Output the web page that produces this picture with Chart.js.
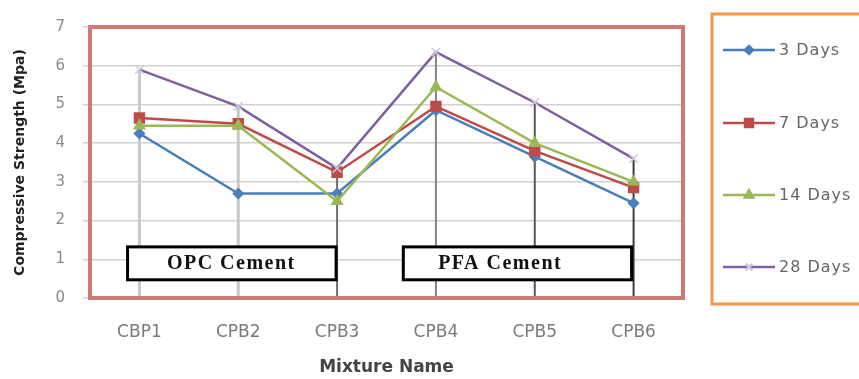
<!DOCTYPE html>
<html>
<head>
<meta charset="utf-8">
<script src="https://cdn.jsdelivr.net/npm/chart.js@4.4.1/dist/chart.umd.min.js"></script>
<style>
  html, body { margin: 0; padding: 0; background: #fff; }
  canvas { display: block; }
</style>
</head>
<body>
<canvas id="chart" width="859" height="379"></canvas>
<script>
// values
const mixtures = ['CBP1', 'CPB2', 'CPB3', 'CPB4', 'CPB5', 'CPB6'];
const days3 = [4.25, 2.7, 2.7, 4.85, 3.65, 2.45];
const days7 = [4.65, 4.5, 3.25, 4.95, 3.8, 2.85];
const days14 = [4.45, 4.45, 2.5, 5.45, 4.0, 3.0];
const days28 = [5.9, 4.95, 3.35, 6.35, 5.05, 3.6];
const seriesNames = ['3 Days', '7 Days', '14 Days', '28 Days'];
const yTicks = [0, 1, 2, 3, 4, 5, 6, 7];
const cementGroups = ['OPC Cement', 'PFA Cement'];

// label boxes, in category / value units
const groupBoxes = [
  { x0: -0.12, x1: 1.99, y0: 0.47, y1: 1.32, tx: 0.93 },
  { x0: 2.67, x1: 4.98, y0: 0.47, y1: 1.32, tx: 3.65 }
];
const dropColors = ['#c9c9c9', '#c9c9c9', '#6e6e6e', '#858585', '#555555', '#3c3c3c'];

const FONT = "'DejaVu Sans', 'Liberation Sans', sans-serif";

const dropLines = {
  id: 'dropLines',
  beforeDatasetsDraw(chart) {
    const { ctx, scales: { x, y } } = chart;
    ctx.save();
    mixtures.forEach((m, i) => {
      const top = Math.max(days3[i], days7[i], days14[i], days28[i]);
      const px = x.getPixelForValue(i);
      ctx.strokeStyle = dropColors[i];
      ctx.lineWidth = i < 2 ? 3 : 2;
      ctx.beginPath();
      ctx.moveTo(px, y.getPixelForValue(top));
      ctx.lineTo(px, y.getPixelForValue(0));
      ctx.stroke();
    });
    ctx.restore();
  }
};

const extras = {
  id: 'extras',
  afterDraw(chart) {
    const { ctx, chartArea: a, scales: { x, y } } = chart;
    const spacing = 'letterSpacing' in ctx;
    ctx.save();

    // cement label boxes
    groupBoxes.forEach((b, i) => {
      const l = x.getPixelForValue(b.x0), r = x.getPixelForValue(b.x1);
      const t = y.getPixelForValue(b.y1), btm = y.getPixelForValue(b.y0);
      ctx.fillStyle = '#fff';
      ctx.fillRect(l, t, r - l, btm - t);
      ctx.strokeStyle = '#000';
      ctx.lineWidth = 3;
      ctx.strokeRect(l, t, r - l, btm - t);
      ctx.fillStyle = '#111';
      ctx.font = "bold 20px 'Liberation Serif', serif";
      if (spacing) ctx.letterSpacing = '1.5px';
      ctx.textAlign = 'center';
      ctx.textBaseline = 'middle';
      ctx.fillText(cementGroups[i], x.getPixelForValue(b.tx), (t + btm) / 2);
      if (spacing) ctx.letterSpacing = '0px';
    });

    // plot area border
    ctx.strokeStyle = '#d07a78';
    ctx.lineWidth = 4;
    ctx.strokeRect(a.left, a.top, a.right - a.left, a.bottom - a.top);

    // legend
    ctx.strokeStyle = '#f79646';
    ctx.lineWidth = 3;
    ctx.strokeRect(712, 14, 200, 290);
    const rows = [50, 123, 195, 267];
    chart.data.datasets.forEach((ds, i) => {
      const yy = rows[i];
      ctx.strokeStyle = ds.borderColor;
      ctx.lineWidth = 2.5;
      ctx.beginPath();
      ctx.moveTo(723, yy);
      ctx.lineTo(775, yy);
      ctx.stroke();
      ctx.fillStyle = ds.pointBackgroundColor;
      ctx.strokeStyle = ds.pointBorderColor;
      Chart.helpers.drawPoint(ctx, {
        pointStyle: ds.pointStyle, rotation: 0,
        radius: ds.pointRadius * 0.8, borderWidth: ds.pointBorderWidth
      }, 749, yy);
      ctx.fillStyle = '#666';
      ctx.font = '16px ' + FONT;
      if (spacing) ctx.letterSpacing = '1px';
      ctx.textAlign = 'left';
      ctx.textBaseline = 'middle';
      ctx.fillText(ds.label, 779, yy + 1);
      if (spacing) ctx.letterSpacing = '0px';
    });
    ctx.restore();
  }
};

function line(label, data, color, style, radius, order, pointColor) {
  return {
    label, data, order,
    borderColor: color,
    backgroundColor: color,
    borderWidth: 2.5,
    tension: 0,
    fill: false,
    pointStyle: style,
    pointRadius: radius,
    pointBackgroundColor: pointColor || color,
    pointBorderColor: pointColor || color,
    pointBorderWidth: 1.5
  };
}

new Chart(document.getElementById('chart'), {
  type: 'line',
  data: {
    labels: mixtures,
    datasets: [
      line(seriesNames[0], days3, '#4a7ebb', 'rectRot', 5, 3),
      line(seriesNames[1], days7, '#be4b48', 'rect', 7, 2),
      line(seriesNames[2], days14, '#98b954', 'triangle', 6, 1),
      line(seriesNames[3], days28, '#7d60a0', 'crossRot', 6, 0, '#cfc9dc')
    ]
  },
  options: {
    responsive: false,
    animation: false,
    layout: { padding: { left: 0, top: 12, right: 176, bottom: 0 } },
    plugins: { legend: { display: false }, tooltip: { enabled: false } },
    scales: {
      x: {
        offset: true,
        grid: { display: false },
        border: { display: false },
        ticks: { color: '#7a7a7a', font: { family: FONT, size: 17 }, padding: 16 },
        title: {
          display: true, text: 'Mixture Name', color: '#444',
          font: { family: FONT, size: 17, weight: 'bold' },
          padding: { top: 0, bottom: 1 }
        },
        afterFit(s) { s.height = 81; }
      },
      y: {
        min: yTicks[0],
        max: yTicks[yTicks.length - 1],
        grid: { color: '#d2d2d2', lineWidth: 1.5, tickLength: 7 },
        border: { display: false },
        ticks: {
          stepSize: 1, padding: 18, color: '#8a8a8a',
          font: { family: FONT, size: 15 }
        },
        title: {
          display: true, text: 'Compressive Strength (Mpa)', color: '#222',
          font: { family: FONT, size: 14, weight: 'bold' },
          padding: { top: 12, bottom: 0 }
        },
        afterFit(s) { s.width = 90; }
      }
    }
  },
  plugins: [dropLines, extras]
});
</script>
</body>
</html>
